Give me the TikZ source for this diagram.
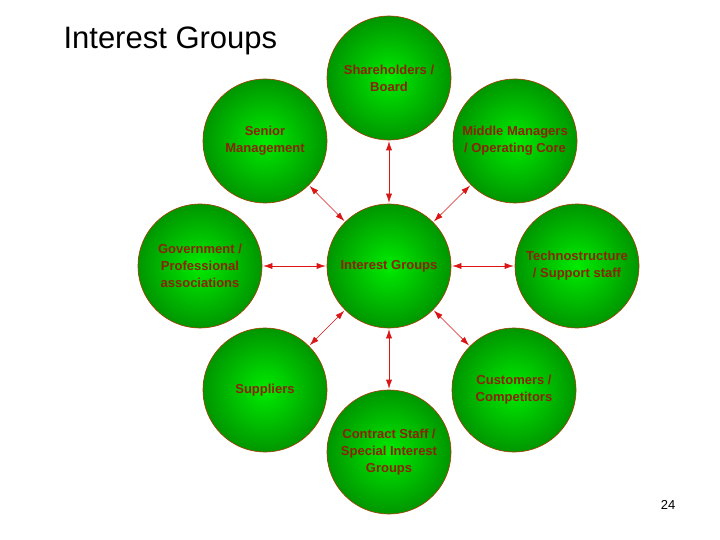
\documentclass[tikz,border=0pt]{standalone}
\usepackage{fontspec}
\setmainfont{Liberation Sans}
\usetikzlibrary{arrows.meta}
\begin{document}
\begin{tikzpicture}[x=1pt,y=-1pt,
  ball/.style={circle,minimum size=124pt,inner sep=0pt,draw={rgb,255:red,170;green,60;blue,0},line width=0.6pt,
    inner color={rgb,255:red,0;green,235;blue,0},outer color={rgb,255:red,0;green,150;blue,0},
    text={rgb,255:red,140;green,35;blue,0},font=\bfseries\fontsize{13}{17}\selectfont,align=center},
  link/.style={draw={rgb,255:red,220;green,20;blue,20},line width=0.6pt,{Latex[length=9pt,width=6pt]}-{Latex[length=9pt,width=6pt]},shorten >=1pt,shorten <=1pt}]
\useasboundingbox[fill=white] (0,0) rectangle (720,540);
\node[anchor=west,font=\fontsize{31}{36}\selectfont] (title) at (60,41) {Interest Groups};
\node[ball] (c) at (389,266) {Interest Groups};
\node[ball] (sh) at (389,78) {Shareholders /\\Board};
\node[ball] (sm) at (265,141) {Senior\\Management};
\node[ball] (mm) at (515,141) {Middle Managers\\/ Operating Core};
\node[ball] (gov) at (200,266) {Government /\\Professional\\associations};
\node[ball] (tech) at (577,266) {Technostructure\\/ Support staff};
\node[ball] (sup) at (265,390) {Suppliers};
\node[ball] (cus) at (514,390) {Customers /\\Competitors};
\node[ball] (con) at (389,452) {Contract Staff /\\Special Interest\\Groups};
\foreach \n in {sh,sm,mm,gov,tech,sup,cus,con} \draw[link] (c) -- (\n);
\node[font=\fontsize{13}{15}\selectfont] (pg) at (668,505) {24};
\end{tikzpicture}
\end{document}
